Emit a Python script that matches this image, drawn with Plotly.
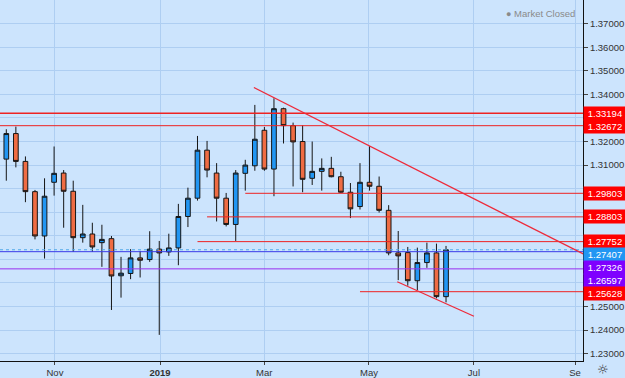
import plotly.graph_objects as go

# ---------------- data ----------------
bar_index = list(range(-1, 47))
opens = [1.30409, 1.31253, 1.32338, 1.31156, 1.29873, 1.27992, 1.30270, 1.30662, 1.29890, 1.27920,
         1.28076, 1.27709, 1.27878, 1.26304, 1.26401, 1.27063, 1.26992, 1.27435, 1.27316, 1.27485,
         1.28819, 1.29595, 1.31633, 1.30662, 1.29595, 1.28481, 1.30650, 1.30970, 1.32477, 1.30831,
         1.33392, 1.32675, 1.32000, 1.30439, 1.30734, 1.30861, 1.30506, 1.29848, 1.29241, 1.30270,
         1.30101, 1.29080, 1.27274, 1.27287, 1.26093, 1.26865, 1.27274, 1.25418]
highs = [1.31464, 1.32519, 1.32633, 1.31367, 1.29945, 1.30439, 1.31789, 1.30789, 1.30338, 1.29312,
         1.28553, 1.28468, 1.27992, 1.27106, 1.27435, 1.27359, 1.28194, 1.27781, 1.28089, 1.29354,
         1.30042, 1.32236, 1.32025, 1.31084, 1.29818, 1.30789, 1.31224, 1.33553, 1.32616, 1.33835,
         1.33435, 1.32802, 1.32688, 1.32000, 1.31283, 1.31350, 1.30717, 1.30240, 1.31084, 1.31802,
         1.30515, 1.29300, 1.28203, 1.27527, 1.27498, 1.27709, 1.27667, 1.27570]
lows = [1.30240, 1.30338, 1.30903, 1.29426, 1.27848, 1.27034, 1.29705, 1.28342, 1.27316, 1.27709,
        1.27316, 1.26683, 1.24852, 1.25376, 1.26160, 1.26232, 1.26894, 1.23797, 1.27148, 1.26751,
        1.28371, 1.29494, 1.30481, 1.28608, 1.28397, 1.27781, 1.29916, 1.30760, 1.30760, 1.29679,
        1.31916, 1.30093, 1.29848, 1.30156, 1.29916, 1.30481, 1.29818, 1.28751, 1.29114, 1.29916,
        1.28987, 1.27173, 1.26118, 1.25882, 1.25696, 1.26641, 1.25346, 1.25177]
closes = [1.31181, 1.32338, 1.31156, 1.29873, 1.27992, 1.29679, 1.30650, 1.29890, 1.27920, 1.28076,
          1.27527, 1.27848, 1.26295, 1.26414, 1.27063, 1.26962, 1.27435, 1.27274, 1.27485, 1.28819,
          1.29595, 1.31633, 1.30789, 1.29595, 1.28481, 1.30662, 1.31000, 1.32097, 1.30831, 1.33392,
          1.32675, 1.31983, 1.30397, 1.30734, 1.30861, 1.30506, 1.29848, 1.29143, 1.30270, 1.30101,
          1.29080, 1.27274, 1.27148, 1.26093, 1.26865, 1.27274, 1.25418, 1.27407]

x_tick_labels = ["Nov", "<b>2019</b>", "Mar", "May", "Jul", "Se"]
x_tick_pos = [5.09, 16.08, 26.99, 37.94, 48.92, 59.5]

y_tick_values = [1.23, 1.24, 1.25, 1.26, 1.27, 1.28, 1.29, 1.30, 1.31, 1.32,
                 1.33, 1.34, 1.35, 1.36, 1.37]

# horizontal levels: price, start bar (None = full width), kind
level_prices = [1.33194, 1.32672, 1.29803, 1.28803, 1.27752, 1.27407, 1.27326, 1.26597, 1.25628]
level_starts = [None, None, 25, 21, 20, None, None, None, 37]
level_kinds = ["red", "red", "red", "red", "red", "last", "blue", "purple", "red"]

# trend lines: (bar0, price0, bar1, price1)
upper_trend = [25.9, 1.34291, 61.0, 1.27099]
lower_trend = [40.9, 1.26051, 48.92, 1.24586]

# ---------------- styling ----------------
W, H = 625, 378
ML, MR, MT, MB = 0, 42, 0, 15
PW, PH = W - ML - MR, H - MT - MB
X_RANGE = [-0.66, 60.33]
Y_RANGE = [1.22688, 1.38004]
BG = "#CCE4FD"
GRID = "#AECEF2"
FONT = "Liberation Sans, Arial, sans-serif"
UP = "#2196F3"
DOWN = "#EF6C43"
RED = "#EE2222"
LABEL_COL = {"red": "#FF0000", "last": "#2196F3", "blue": "#7F00FF", "purple": "#7F00FF"}
LINE_COL = {"red": RED, "last": "#4FA8E8", "blue": "#3A3AE8", "purple": "#9A30F0"}

fig = go.Figure()
fig.add_trace(go.Candlestick(
    x=bar_index, open=opens, high=highs, low=lows, close=closes,
    increasing=dict(fillcolor=UP, line=dict(color="#151515", width=1)),
    decreasing=dict(fillcolor=DOWN, line=dict(color="#151515", width=1)),
    hoverinfo="skip", showlegend=False,
))

shapes = []
for p, s, kind in zip(level_prices, level_starts, level_kinds):
    x0 = X_RANGE[0] if s is None else s
    dash = "dot" if kind == "last" else "solid"
    width = 1.5 if p == level_prices[0] else 1
    shapes.append(dict(type="line", xref="x", yref="y", x0=x0, x1=X_RANGE[1], y0=p, y1=p,
                       line=dict(color=LINE_COL[kind], width=width, dash=dash), layer="above"))
for tl in (upper_trend, lower_trend):
    shapes.append(dict(type="line", xref="x", yref="y", x0=tl[0], y0=tl[1], x1=tl[2], y1=tl[3],
                       line=dict(color="#EE2A3A", width=1.3), layer="above"))

# price labels on the right axis, stacked like the original so they don't overlap
def price_to_px(p):
    return (Y_RANGE[1] - p) / (Y_RANGE[1] - Y_RANGE[0]) * PH

annotations = []
LBL_H = 13
label_px = []
prev = -100
order = sorted(range(len(level_prices)), key=lambda i: -level_prices[i])
for i in order:
    ypx = max(price_to_px(level_prices[i]), prev + LBL_H)
    prev = ypx
    label_px.append(ypx)
    annotations.append(dict(
        xref="paper", yref="paper", x=1, y=1 - ypx / PH, xanchor="left", yanchor="middle",
        text="%.5f" % level_prices[i], showarrow=False, width=42, height=LBL_H,
        bgcolor=LABEL_COL[level_kinds[i]], borderpad=0, align="center",
        font=dict(family=FONT, size=9.5, color="white")))

# axis tick labels hidden behind the coloured price boxes (as in the original)
y_tick_text = []
for v in y_tick_values:
    vp = price_to_px(v)
    covered = any(abs(vp - lp) < LBL_H / 2 + 5 for lp in label_px)
    y_tick_text.append("" if covered else "%.5f" % v)

annotations.append(dict(xref="paper", yref="paper", x=577 / PW, y=1 - 14 / PH,
                        xanchor="right", yanchor="middle", showarrow=False,
                        text="<span style='font-size:9px'>●</span> Market Closed",
                        font=dict(family=FONT, size=9.5, color="#8A8A8A")))
annotations.append(dict(xref="paper", yref="paper", x=603 / PW, y=-9 / PH,
                        xanchor="center", yanchor="middle", showarrow=False,
                        text="☼", font=dict(family="DejaVu Sans", size=13, color="#333")))

fig.update_layout(
    width=W, height=H,
    margin=dict(l=ML, r=MR, t=MT, b=MB, pad=0),
    paper_bgcolor=BG, plot_bgcolor=BG,
    showlegend=False, hovermode=False,
    shapes=shapes, annotations=annotations,
    xaxis=dict(range=X_RANGE, rangeslider=dict(visible=False), tickmode="array",
               tickvals=x_tick_pos, ticktext=x_tick_labels, showgrid=True, gridcolor=GRID,
               gridwidth=1, zeroline=False, showline=True, linecolor="#111", linewidth=1,
               ticks="outside", ticklen=3, tickcolor="#444",
               tickfont=dict(family=FONT, size=9.5, color="#333")),
    yaxis=dict(range=Y_RANGE, side="right", tickmode="array", tickvals=y_tick_values,
               ticktext=y_tick_text, showgrid=True, gridcolor=GRID,
               gridwidth=1, zeroline=False, showline=True, linecolor="#111", linewidth=1,
               ticks="outside", ticklen=4, tickcolor="#444",
               tickfont=dict(family=FONT, size=9.5, color="#333")),
)

fig.write_html("out.html")
